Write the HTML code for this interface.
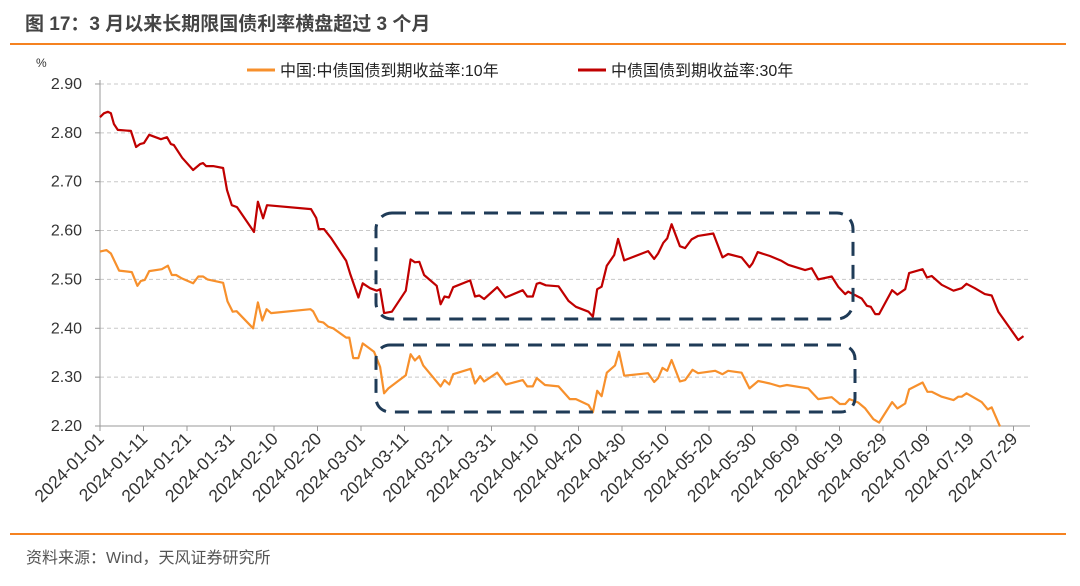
<!DOCTYPE html>
<html><head><meta charset="utf-8"><style>
body{margin:0;background:#fff;width:1080px;height:581px;overflow:hidden;font-family:"Liberation Sans","Noto Sans CJK SC",sans-serif}
</style></head><body>
<svg width="1080" height="581" xmlns="http://www.w3.org/2000/svg" font-family="Liberation Sans, Noto Sans CJK SC, sans-serif">
<text x="25" y="30" font-size="19" font-weight="bold" fill="#444">图 17：3 月以来长期限国债利率横盘超过 3 个月</text>
<line x1="10" y1="44" x2="1066" y2="44" stroke="#f58220" stroke-width="2"/>
<line x1="10" y1="534" x2="1066" y2="534" stroke="#f58220" stroke-width="2"/>
<text x="26" y="563" font-size="16" fill="#555">资料来源：Wind，天风证券研究所</text>
<text x="36" y="67" font-size="12" fill="#333">%</text>
<g id="grid"></g><g id="axes"></g><g id="series"></g>
<g>
<line x1="247" y1="70" x2="275" y2="70" stroke="#f7902c" stroke-width="3"/>
<text x="280" y="76" font-size="16" fill="#222">中国:中债国债到期收益率:10年</text>
<line x1="578" y1="70" x2="606" y2="70" stroke="#c00000" stroke-width="3"/>
<text x="611" y="76" font-size="16" fill="#222">中债国债到期收益率:30年</text>
</g>
<rect x="376" y="213" width="477" height="106" rx="16" fill="none" stroke="#1f3b57" stroke-width="3" stroke-dasharray="14 9"/>
<rect x="376" y="345" width="479" height="67" rx="14" fill="none" stroke="#1f3b57" stroke-width="3" stroke-dasharray="14 9"/>
</svg>
<script>
const yTicks=[2.20,2.30,2.40,2.50,2.60,2.70,2.80,2.90];
const xTickLabels=["2024-01-01","2024-01-11","2024-01-21","2024-01-31","2024-02-10","2024-02-20","2024-03-01","2024-03-11","2024-03-21","2024-03-31","2024-04-10","2024-04-20","2024-04-30","2024-05-10","2024-05-20","2024-05-30","2024-06-09","2024-06-19","2024-06-29","2024-07-09","2024-07-19","2024-07-29"];
const days30=[0,0.9,1.8,2.5,3.2,4.1,7.1,8.3,9.2,10.1,11.3,14,15.4,16.3,17,18.9,21.4,23,23.7,24.4,26,28.3,29.2,30.3,31.5,34.5,35.4,36.3,37.5,38.4,48.5,49.7,50.3,51.5,53.1,56.6,57.5,59.4,60.4,62.1,63.6,64.4,65.3,67.1,70.3,71.4,72.4,73.4,74.5,77.4,78.3,79.2,80.2,81.2,85.1,86.2,87.2,88.3,91.3,93.2,97.2,98.2,99.5,100.4,101.1,102.5,105.4,107.7,109.4,112.3,113.3,114.3,115.3,116.5,118.2,119.1,120.5,126,127.4,128.3,129.5,130.4,131.4,133.3,134.5,136,137.5,141,143.1,144.4,147.5,149.3,150,151.2,154,156.7,158.2,162.1,163.6,165.1,168.2,169.7,171.3,172,175.1,176.3,177.2,178.2,179.1,182.1,183.3,185.1,186,189.1,190.1,191.2,193.5,196.2,198.1,199.2,201.1,203.4,205,206.5,211.1,212.3];
const vals30=[2.832,2.84,2.843,2.84,2.818,2.806,2.804,2.771,2.777,2.779,2.796,2.787,2.791,2.777,2.775,2.749,2.724,2.736,2.738,2.732,2.732,2.728,2.683,2.652,2.648,2.609,2.597,2.659,2.625,2.652,2.644,2.626,2.603,2.603,2.585,2.538,2.512,2.463,2.492,2.482,2.477,2.48,2.431,2.434,2.477,2.541,2.535,2.536,2.509,2.487,2.449,2.465,2.463,2.484,2.498,2.465,2.467,2.46,2.484,2.463,2.478,2.465,2.465,2.491,2.493,2.488,2.486,2.456,2.444,2.434,2.424,2.48,2.485,2.528,2.55,2.583,2.539,2.558,2.542,2.553,2.575,2.584,2.613,2.568,2.564,2.582,2.589,2.594,2.545,2.552,2.545,2.525,2.533,2.556,2.548,2.538,2.53,2.519,2.523,2.50,2.506,2.485,2.47,2.475,2.461,2.446,2.444,2.429,2.429,2.478,2.469,2.48,2.513,2.521,2.504,2.507,2.489,2.477,2.482,2.491,2.482,2.47,2.467,2.434,2.376,2.384];
const days10=[0,1.5,2.5,4.4,7.3,8.6,9.4,10.3,11.3,14.2,15.6,16.5,17.5,18.8,21.4,22.6,23.7,24.7,28.3,29.3,30.5,31.4,35.2,36.3,37.3,38.3,39.3,48.4,49,50.2,51.3,52.5,53.6,56.6,57.3,58.2,59.4,60.4,63,64.4,65.3,66.3,70.3,71.4,72.4,73.4,74.3,78.3,79.2,80.3,81.2,85.2,86.2,87.4,88.3,91.3,93.3,97.2,98.2,99.5,100.4,102.3,105.4,108,109.4,112.3,113.3,114.3,115.3,116.5,118.4,119.3,120.5,126,127.4,128.3,129.3,130.4,131.4,133.3,134.5,136.2,137.5,141.4,143.1,144.4,147.5,149.3,151.3,154,156.3,157.9,162.8,165.1,168.2,170.1,171.3,172.3,174.3,175.9,177.8,179.1,182.1,183.3,185.1,186,189.1,190.2,191.2,193.5,196.2,197.3,198.1,199.2,202.7,204.1,205,206.9];
const vals10=[2.557,2.56,2.553,2.518,2.515,2.487,2.497,2.499,2.517,2.521,2.528,2.509,2.509,2.502,2.492,2.506,2.506,2.50,2.493,2.455,2.434,2.435,2.40,2.453,2.416,2.439,2.431,2.439,2.435,2.414,2.412,2.403,2.40,2.381,2.381,2.339,2.339,2.369,2.352,2.321,2.267,2.277,2.304,2.347,2.334,2.343,2.324,2.281,2.294,2.285,2.306,2.317,2.287,2.302,2.291,2.309,2.285,2.294,2.281,2.281,2.298,2.284,2.281,2.255,2.255,2.243,2.228,2.272,2.261,2.309,2.324,2.352,2.303,2.308,2.29,2.298,2.319,2.313,2.335,2.291,2.294,2.315,2.308,2.313,2.306,2.313,2.309,2.277,2.292,2.287,2.281,2.284,2.277,2.255,2.259,2.245,2.245,2.255,2.248,2.236,2.214,2.207,2.249,2.236,2.246,2.275,2.289,2.27,2.27,2.26,2.253,2.26,2.26,2.267,2.249,2.234,2.238,2.199];
const NS="http://www.w3.org/2000/svg";
const X0=100,PXD=4.35,Y0=426,YMIN=2.2,PXV=488.6;
const xs=d=>X0+d*PXD, ys=v=>Y0-(v-YMIN)*PXV;
function mk(t,a,p){const e=document.createElementNS(NS,t);for(const k in a)e.setAttribute(k,a[k]);p.appendChild(e);return e;}
const grid=document.getElementById('grid'),axes=document.getElementById('axes'),ser=document.getElementById('series');
yTicks.forEach(v=>{
 const y=ys(v);
 if(v>YMIN){const g=mk('line',{x1:X0,x2:1030,y1:y,y2:y,stroke:'#c8c8c8','stroke-dasharray':'4 3'},grid);
 
 }
 const tk=mk('line',{x1:X0-5,x2:X0,y1:y,y2:y,stroke:'#999'},axes);
 
 
 const t=mk('text',{x:82,y:y+5,'text-anchor':'end','font-size':16,fill:'#333'},axes);
 t.textContent=v.toFixed(2);
 
 
});
const ax=mk('line',{x1:X0,x2:X0,y1:80,y2:Y0,stroke:'#999'},axes);


const bx=mk('line',{x1:X0,x2:1030,y1:Y0,y2:Y0,stroke:'#999'},axes);


xTickLabels.forEach((l,i)=>{
 const x=xs(i*10);
 const tk=mk('line',{x1:x,x2:x,y1:Y0,y2:Y0+5,stroke:'#999'},axes);
 
 
 const t=mk('text',{x:x+5,y:Y0+14,'text-anchor':'end','font-size':17.5,fill:'#333',transform:`rotate(-45 ${x+5} ${Y0+14})`},axes);
 t.textContent=l;
 
 
});
function line(days,vals,color,name){
 const p=mk('polyline',{points:days.map((d,i)=>xs(d).toFixed(1)+','+ys(vals[i]).toFixed(1)).join(' '),fill:'none',stroke:color,'stroke-width':2.2,'stroke-linejoin':'round'},ser);
 
 
}
line(days10,vals10,'#f7902c','series-10y-yield');
line(days30,vals30,'#c00000','series-30y-yield');
</script>
</body></html>
